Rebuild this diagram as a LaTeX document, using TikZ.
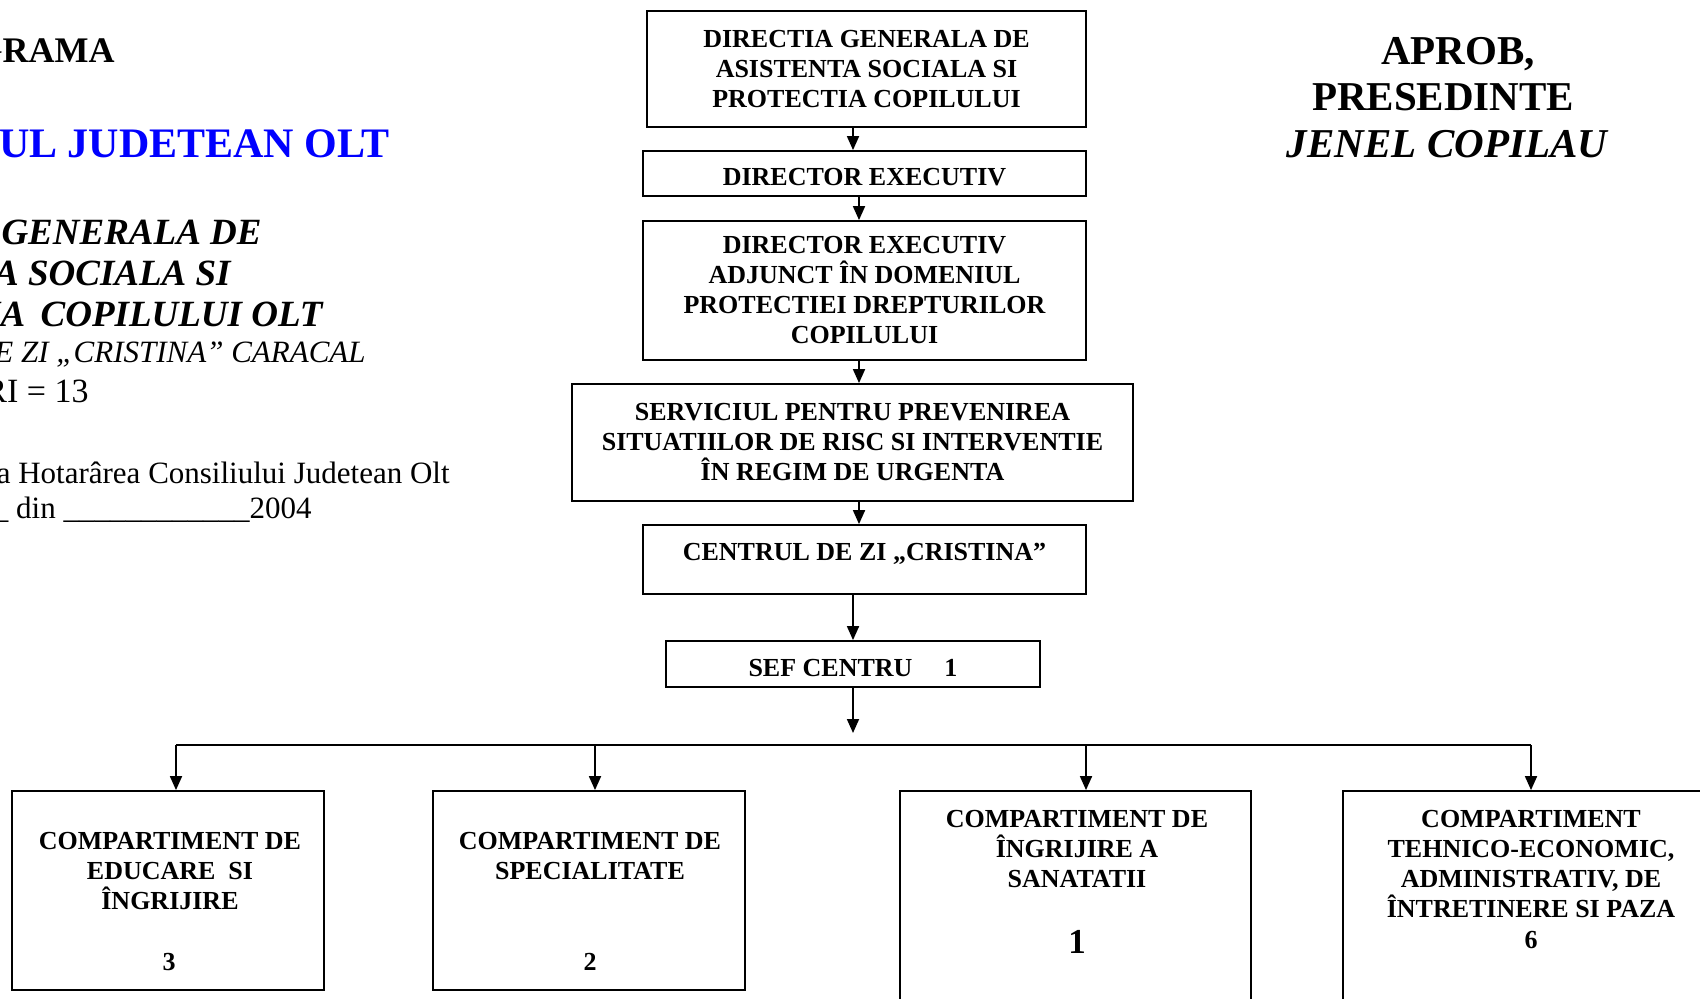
\documentclass[tikz,border=0pt]{standalone}
\usepackage{fontspec}
\setmainfont{Liberation Serif}
\usetikzlibrary{arrows.meta}

\begin{document}
\begin{tikzpicture}[x=0.5pt,y=-0.5pt]
\useasboundingbox (0,0) rectangle (1700,999);
\clip (0,0) rectangle (1700,999);

% header on the left, cut by the page edge
\begin{scope}[every node/.style={anchor=base east,inner sep=0pt}]
	\node[font=\bfseries\fontsize{18}{20}\selectfont] (title) at (115,63) {GRAMA};
	\node[font=\bfseries\fontsize{21}{24}\selectfont,text=blue] (council) at (390,158) {IUL JUDETEAN OLT};
	\node[font=\bfseries\itshape\fontsize{18.5}{20}\selectfont] (dirA) at (262,245) {GENERALA DE};
	\node[font=\bfseries\itshape\fontsize{18.5}{20}\selectfont] (dirB) at (231,286) {A SOCIALA SI};
	\node[font=\bfseries\itshape\fontsize{18.5}{20}\selectfont] (dirC) at (323,327) {IA\ \,COPILULUI OLT};
	\node[font=\itshape\fontsize{15.5}{18}\selectfont] (dayctr) at (366,363) {E ZI „CRISTINA” CARACAL};
	\node[font=\fontsize{17}{20}\selectfont] (total) at (89,403) {RI = 13};
	\node[font=\fontsize{15.5}{18}\selectfont] (annexA) at (450,483) {a Hotarârea Consiliului Judetean Olt};
	\node[font=\fontsize{15.5}{18}\selectfont] (annexB) at (312,518) {\_ din \_\_\_\_\_\_\_\_\_\_\_\_2004};
\end{scope}

% header on the right
\begin{scope}[every node/.style={anchor=base,inner sep=0pt,font=\bfseries\fontsize{20.5}{24}\selectfont}]
	\node (aprob) at (1458,65) {APROB,};
	\node (pres) at (1443,111) {PRESEDINTE};
	\node[font=\bfseries\itshape\fontsize{20.5}{24}\selectfont] (pname) at (1447,158) {JENEL COPILAU};
\end{scope}

% boxes
\begin{scope}[every node/.style={rectangle,draw,line width=0.9pt,align=center,inner sep=0pt,
	font=\bfseries\fontsize{13}{15}\selectfont}]
	\node[minimum width=219.5pt,minimum height=58pt] (dgaspc) at (866.5,69)
		{DIRECTIA GENERALA DE\\ASISTENTA SOCIALA SI\\PROTECTIA COPILULUI};
	\node[minimum width=221.5pt,minimum height=22.5pt,text height=12.6pt] (director) at (864.5,173.5)
		{DIRECTOR EXECUTIV};
	\node[minimum width=221.5pt,minimum height=69.5pt] (adjunct) at (864.5,290.5)
		{DIRECTOR EXECUTIV\\ADJUNCT ÎN DOMENIUL\\PROTECTIEI DREPTURILOR\\COPILULUI};
	\node[minimum width=280.5pt,minimum height=58.5pt] (urgenta) at (852.5,442.5)
		{SERVICIUL PENTRU PREVENIREA\\SITUATIILOR DE RISC SI INTERVENTIE\\ÎN REGIM DE URGENTA};
	\node[minimum width=221.5pt,minimum height=34.5pt,text depth=7.5pt] (centru) at (864.5,559.5)
		{CENTRUL DE ZI „CRISTINA”};
	\node[minimum width=187pt,minimum height=23pt,text height=12.6pt] (sef) at (853,664)
		{SEF CENTRU\hspace*{16pt}1};

	\node[minimum width=156pt,minimum height=99.5pt] (educare) at (168,890.5) {};
	\node[minimum width=156pt,minimum height=99.5pt] (special) at (589,890.5) {};
	\node[minimum width=175.5pt,minimum height=112pt] (sanatate) at (1075.5,903) {};
	\node[minimum width=188pt,minimum height=112pt] (tehnic) at (1531,903) {};
\end{scope}

% texts of the compartments
\begin{scope}[every node/.style={align=center,inner sep=0pt,font=\bfseries\fontsize{13}{15}\selectfont}]
	\node[anchor=north] (educaretxt) at (170,832) {COMPARTIMENT DE\\EDUCARE\ \ SI\\ÎNGRIJIRE};
	\node[anchor=base] (educarenr) at (169,970) {3};
	\node[anchor=north] (specialtxt) at (590,832) {COMPARTIMENT DE\\SPECIALITATE};
	\node[anchor=base] (specialnr) at (590,970) {2};
	\node[anchor=north] (sanatatetxt) at (1077,810) {COMPARTIMENT DE\\ÎNGRIJIRE A\\SANATATII};
	\node[anchor=base,font=\bfseries\fontsize{17.5}{20}\selectfont] (sanatatenr) at (1077,953) {1};
	\node[anchor=north] (tehnictxt) at (1531,810)
		{COMPARTIMENT\\TEHNICO-ECONOMIC,\\ADMINISTRATIV, DE\\ÎNTRETINERE SI PAZA};
	\node[anchor=base] (tehnicnr) at (1531,948) {6};
\end{scope}

% connectors
\begin{scope}[line width=0.9pt,>={Triangle[length=7pt,width=6pt]}]
	\coordinate (axisA) at (853,0);
	\coordinate (axisB) at (859,0);
	\coordinate (bustip) at (853,733);
	\coordinate (busA) at (176,745);
	\coordinate (busB) at (595,745);
	\coordinate (busC) at (1086,745);
	\coordinate (busD) at (1531,745);

	\draw[->] (dgaspc.south -| axisA) -- (director.north -| axisA);
	\draw[->] (director.south -| axisB) -- (adjunct.north -| axisB);
	\draw[->] (adjunct.south -| axisB) -- (urgenta.north -| axisB);
	\draw[->] (urgenta.south -| axisB) -- (centru.north -| axisB);
	\draw[->] (centru.south -| axisA) -- (sef.north -| axisA);
	\draw[->] (sef.south -| axisA) -- (bustip);

	\draw (busA) -- (busD);
	\draw[->] (busA) -- (educare.north -| busA);
	\draw[->] (busB) -- (special.north -| busB);
	\draw[->] (busC) -- (sanatate.north -| busC);
	\draw[->] (busD) -- (tehnic.north -| busD);
\end{scope}

\end{tikzpicture}
\end{document}
